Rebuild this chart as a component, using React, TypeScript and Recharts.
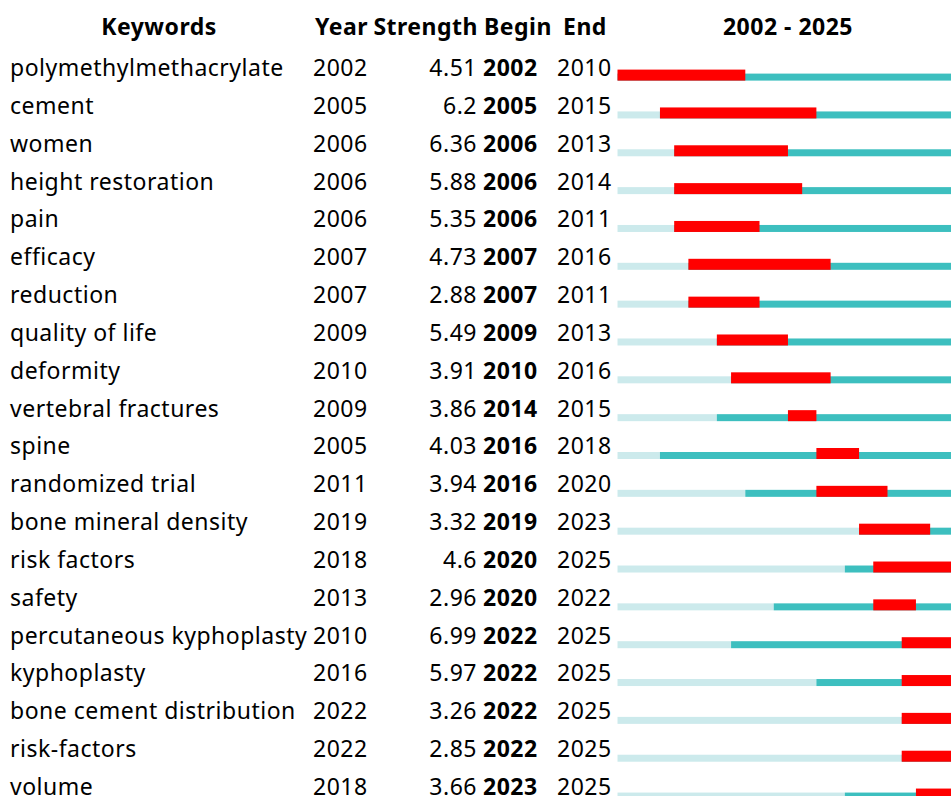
import React from "react";
import { ComposedChart, Bar, XAxis, YAxis } from "recharts";

const keywords = [
  "polymethylmethacrylate",
  "cement",
  "women",
  "height restoration",
  "pain",
  "efficacy",
  "reduction",
  "quality of life",
  "deformity",
  "vertebral fractures",
  "spine",
  "randomized trial",
  "bone mineral density",
  "risk factors",
  "safety",
  "percutaneous kyphoplasty",
  "kyphoplasty",
  "bone cement distribution",
  "risk-factors",
  "volume",
];
const years = [2002, 2005, 2006, 2006, 2006, 2007, 2007, 2009, 2010, 2009, 2005, 2011, 2019, 2018, 2013, 2010, 2016, 2022, 2022, 2018];
const strengths = [4.51, 6.2, 6.36, 5.88, 5.35, 4.73, 2.88, 5.49, 3.91, 3.86, 4.03, 3.94, 3.32, 4.6, 2.96, 6.99, 5.97, 3.26, 2.85, 3.66];
const begins = [2002, 2005, 2006, 2006, 2006, 2007, 2007, 2009, 2010, 2014, 2016, 2016, 2019, 2020, 2020, 2022, 2022, 2022, 2022, 2023];
const ends = [2010, 2015, 2013, 2014, 2011, 2016, 2011, 2013, 2016, 2015, 2018, 2020, 2023, 2025, 2022, 2025, 2025, 2025, 2025, 2025];
const headers = ["Keywords", "Year", "Strength", "Begin", "End"];
const startYear = 2002;
const endYear = 2025;

const data = keywords.map((k, i) => ({
  keyword: k,
  year: years[i],
  strength: strengths[i],
  begin: begins[i],
  end: ends[i],
  pre: [startYear, years[i]],
  post: [years[i], endYear + 1],
  burst: [begins[i], ends[i] + 1],
}));

const FONT = '"Noto Sans", "Open Sans", sans-serif';
const FS = 23;
const LS = 0.5;

const RowTick = (props: any) => {
  const { y, payload } = props;
  let idx = typeof props.index === "number" ? props.index : keywords.indexOf(payload.value);
  const d = data[idx];
  if (!d) return null;
  const by = y + 0.5;
  const common = { fontFamily: FONT, fontSize: FS, fill: "#000", letterSpacing: LS } as any;
  return (
    <g>
      <text x={10} y={by} textAnchor="start" {...common}>{d.keyword}</text>
      <text x={313} y={by} textAnchor="start" {...common}>{d.year}</text>
      <text x={477} y={by} textAnchor="end" {...common}>{String(d.strength)}</text>
      <text x={483} y={by} textAnchor="start" {...common} fontWeight="bold">{d.begin}</text>
      <text x={557} y={by} textAnchor="start" {...common}>{d.end}</text>
    </g>
  );
};

const thinShape = (fill: string) => (p: any) => {
  if (!p || p.width == null || p.width <= 0) return <g />;
  return <rect x={p.x} y={p.y + 2} width={p.width} height={p.height} fill={fill} />;
};
const redShape = (p: any) => {
  if (!p || p.width == null || p.width <= 0) return <g />;
  return <rect x={p.x} y={p.y} width={p.width} height={p.height} fill="#FF0000" />;
};

export default function App() {
  const hdr = { fontFamily: FONT, fontSize: FS, fontWeight: "bold", fill: "#000", letterSpacing: LS } as any;
  return (
    <div style={{ position: "absolute", left: 0, top: 0, width: 951, height: 796, overflow: "hidden", background: "#fff" }}>
      <ComposedChart
        width={980}
        height={830}
        data={data}
        layout="vertical"
        margin={{ top: 56.6, right: 21.4, bottom: 16.6, left: 0 }}
      >
        <XAxis type="number" domain={[startYear, endYear + 1]} hide allowDataOverflow />
        <YAxis
          yAxisId="main"
          type="category"
          dataKey="keyword"
          width={617.3}
          axisLine={false}
          tickLine={false}
          interval={0}
          tick={<RowTick />}
        />
        <YAxis yAxisId="thin" type="category" dataKey="keyword" hide />
        <YAxis yAxisId="red" type="category" dataKey="keyword" hide />
        <Bar yAxisId="thin" dataKey="pre" barSize={7} isAnimationActive={false} shape={thinShape("#CCEAEC")} />
        <Bar yAxisId="main" dataKey="post" barSize={7} isAnimationActive={false} shape={thinShape("#3DBFBF")} />
        <Bar yAxisId="red" dataKey="burst" barSize={11} isAnimationActive={false} shape={redShape} />
      </ComposedChart>
      <svg width={951} height={56} style={{ position: "absolute", left: 0, top: 0 }}>
        <text x={159} y={35} textAnchor="middle" {...hdr}>{headers[0]}</text>
        <text x={315} y={35} textAnchor="start" {...hdr}>{headers[1]}</text>
        <text x={478} y={35} textAnchor="end" {...hdr}>{headers[2]}</text>
        <text x={484} y={35} textAnchor="start" {...hdr}>{headers[3]}</text>
        <text x={563} y={35} textAnchor="start" {...hdr}>{headers[4]}</text>
        <text x={788} y={35} textAnchor="middle" {...hdr}>{`${startYear} - ${endYear}`}</text>
      </svg>
    </div>
  );
}
